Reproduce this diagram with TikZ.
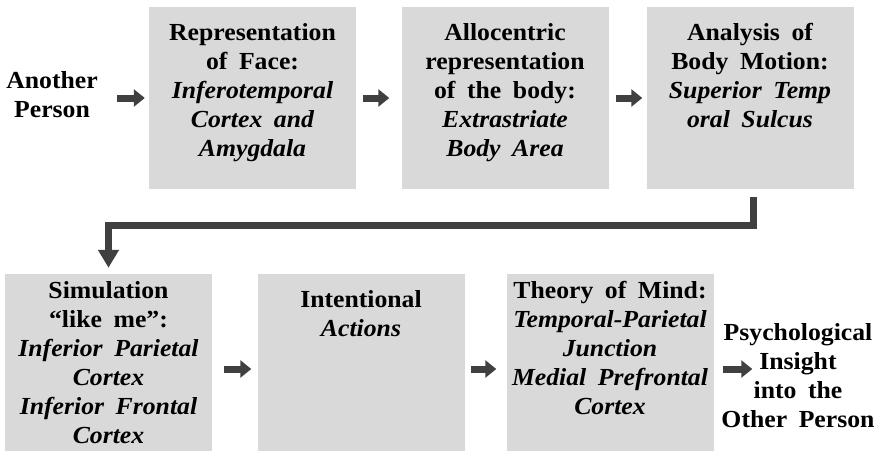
\documentclass[tikz,border=0pt]{standalone}
\usepackage{fontspec}
\setmainfont{Liberation Serif}[FakeStretch=1.05, WordSpace=1.8]
\usetikzlibrary{arrows.meta,calc}
\definecolor{boxgray}{HTML}{D9D9D9}
\definecolor{arrgray}{HTML}{404040}
\begin{document}
\begin{tikzpicture}[x=1pt,y=-1pt,
  box/.style={rectangle, fill=boxgray, draw=none, minimum width=207pt, minimum height=182pt, inner sep=0pt},
  lowbox/.style={box, minimum height=177pt},
  lbl/.style={align=center, inner sep=0pt, font=\fontsize{24.5}{29}\selectfont\bfseries},
  blk/.style={draw=arrgray, line width=7pt, -{Triangle[length=11pt,width=17pt]}},
  conn/.style={draw=arrgray, line width=7pt, -{Triangle[length=18pt,width=20pt]}}]
\useasboundingbox (0,0) rectangle (880,455);
% boxes
\node[box] (b1) at (252.5,98) {};
\node[box] (b2) at (505,98) {};
\node[box] (b3) at (750,98) {};
\node[lowbox] (b4) at (108.5,362.5) {};
\node[lowbox] (b5) at (361,362.5) {};
\node[lowbox] (b6) at (610,362.5) {};
% texts
\node[lbl, anchor=north] (t1) at ($(b1.north)+(0,16)$) {Representation\\of Face:\\\itshape Inferotemporal\\\itshape Cortex and\\\itshape Amygdala};
\node[lbl, anchor=north] (t2) at ($(b2.north)+(0,16)$) {Allocentric\\representation\\of the body:\\\itshape Extrastriate\\\itshape Body Area};
\node[lbl, anchor=north] (t3) at ($(b3.north)+(0,16)$) {Analysis of\\Body Motion:\\\itshape Superior Temp\\\itshape oral Sulcus};
\node[lbl, anchor=north] (t4) at ($(b4.north)+(0,7)$) {Simulation\\“like me”:\\\itshape Inferior Parietal\\\itshape Cortex\\\itshape Inferior Frontal\\\itshape Cortex};
\node[lbl, anchor=north] (t5) at ($(b5.north)+(0,16)$) {Intentional\\\itshape Actions};
\node[lbl, anchor=north] (t6) at ($(b6.north)+(0,7)$) {Theory of Mind:\\\itshape Temporal-Parietal\\\itshape Junction\\\itshape Medial Prefrontal\\\itshape Cortex};
\node[lbl, anchor=north] (ap) at (52,71) {Another\\Person};
\node[lbl, anchor=north] (ps) at (798,323) {Psychological\\Insight\\into the\\Other Person};
% arrows
\draw[blk] ($(ap.east |- b1.west)+(19,0)$) -- ($(b1.west)+(-4,0)$);
\draw[blk] ($(b1.east)+(7,0)$) -- ($(b2.west)+(-12,0)$);
\draw[blk] ($(b2.east)+(7,0)$) -- ($(b3.west)+(-4,0)$);
\draw[blk] ($(b4.east)+(12,6.5)$) -- ($(b5.west)+(-6,6.5)$);
\draw[blk] ($(b5.east)+(6,6.5)$) -- ($(b6.west)+(-10,6.5)$);
\draw[blk] ($(b6.east)+(9,6.5)$) -- ($(ps.west |- b6.east)+(31,6.5)$);
\draw[conn] ($(b3.south)+(3.5,8)$) |- ($(b4.north)+(0,-48.5)$) -- ($(b4.north)+(0,-6)$);
\end{tikzpicture}
\end{document}
